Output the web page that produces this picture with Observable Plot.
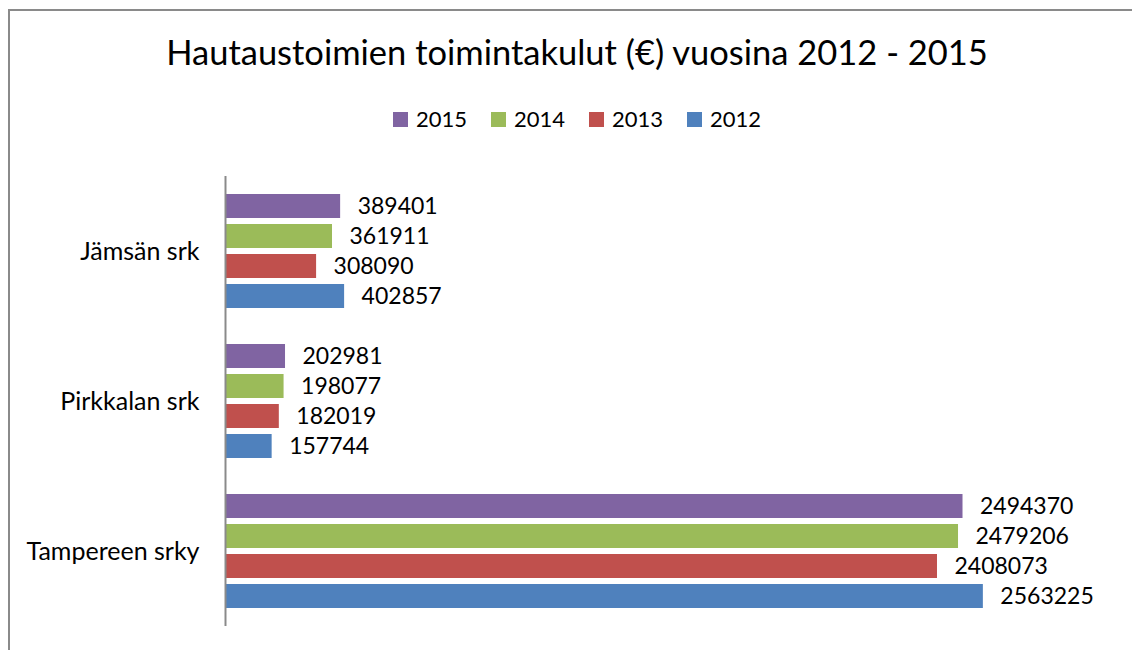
<!DOCTYPE html>
<html>
<head>
<meta charset="utf-8">
<script src="https://cdn.jsdelivr.net/npm/d3@7"></script>
<script src="https://cdn.jsdelivr.net/npm/@observablehq/plot@0.6"></script>
<style>
  html, body { margin: 0; padding: 0; background: #fff; }
  body { width: 1132px; height: 650px; overflow: hidden; position: relative; font-family: Lato, "Open Sans", sans-serif; }
  #frame { position: absolute; left: 8px; top: 9px; width: 1200px; height: 700px; border-left: 2px solid #8a8a8a; border-top: 2px solid #8a8a8a; }
  #title { position: absolute; left: 0; width: 1154px; top: 35px; text-align: center; font-size: 34.5px; line-height: 1; color: #000; white-space: nowrap; }
  #legend { position: absolute; left: 0; width: 1154px; top: 108px; display: flex; justify-content: center; font-size: 22px; line-height: 1; color: #000; }
  .item { display: flex; align-items: center; margin: 0 12px; }
  .sw { width: 15px; height: 15px; margin-right: 8px; }
  #chart { position: absolute; left: 0; top: 160px; }
</style>
</head>
<body>
<div id="frame"></div>
<div id="title">Hautaustoimien toimintakulut (€) vuosina 2012 - 2015</div>
<div id="legend"></div>
<div id="chart"></div>
<script>
const categories = ["Jämsän srk", "Pirkkalan srk", "Tampereen srky"];
const years = ["2015", "2014", "2013", "2012"];
const colors = ["#8064A2", "#9BBB59", "#C0504D", "#4F81BD"];
const v2015 = [389401, 202981, 2494370];
const v2014 = [361911, 198077, 2479206];
const v2013 = [308090, 182019, 2408073];
const v2012 = [402857, 157744, 2563225];
const xMax = 3000000;

const series = {"2015": v2015, "2014": v2014, "2013": v2013, "2012": v2012};
const data = [];
categories.forEach((c, i) => years.forEach(y => data.push({category: c, year: y, value: series[y][i]})));

const legend = document.getElementById("legend");
years.forEach((y, i) => {
  const it = document.createElement("div");
  it.className = "item";
  const sw = document.createElement("div");
  sw.className = "sw";
  sw.style.background = colors[i];
  const t = document.createElement("span");
  t.textContent = y;
  it.appendChild(sw); it.appendChild(t);
  legend.appendChild(it);
});

const chart = Plot.plot({
  width: 1132,
  height: 480,
  marginLeft: 225,
  marginRight: 20,
  marginTop: 15,
  marginBottom: 13,
  style: {fontFamily: "Lato, 'Open Sans', sans-serif", fontSize: "25px", color: "#000", background: "transparent"},
  x: {domain: [0, xMax], axis: null},
  y: {domain: years, axis: null, paddingInner: 0.21, paddingOuter: 0.58},
  fy: {domain: categories, padding: 0, label: null, tickSize: 0, tickPadding: 26, axis: "left"},
  color: {domain: years, range: colors},
  marks: [
    Plot.barX(data, {fy: "category", y: "year", x: "value", fill: "year"}),
    Plot.text(data, {fy: "category", y: "year", x: "value", text: d => String(d.value), textAnchor: "start", dx: 17, fill: "#000", fontSize: 23}),
    Plot.ruleX([0], {stroke: "#8a8a8a", strokeWidth: 2})
  ]
});
document.getElementById("chart").appendChild(chart);
</script>
</body>
</html>
